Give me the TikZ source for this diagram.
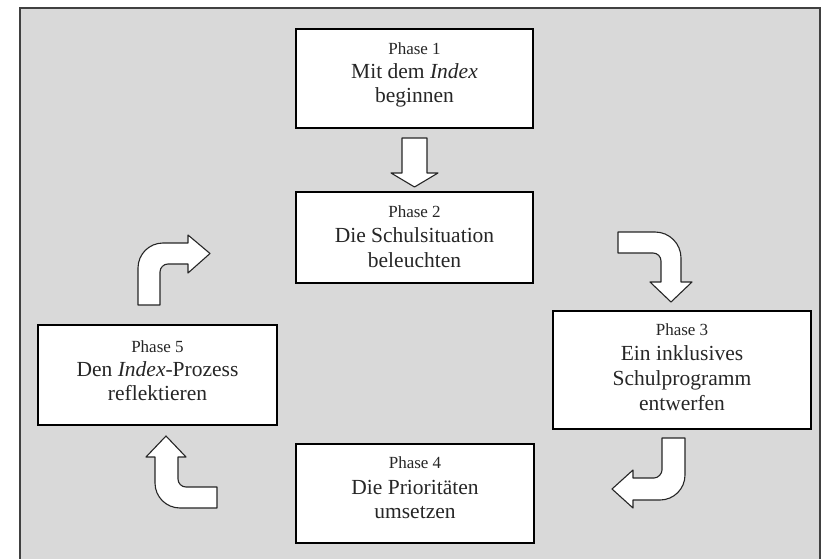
\documentclass[tikz,border=0pt]{standalone}
\usepackage{fontspec}
\setmainfont{Liberation Serif}
\begin{document}
\begin{tikzpicture}[x=1pt,y=-1pt,
  phasebox/.style={draw=black, line width=1.5pt, fill=white, inner sep=0pt, minimum width=#1},
  small/.style={anchor=base, inner sep=0pt, font=\fontsize{17}{20}\selectfont, text=black!85},
  big/.style={anchor=base, inner sep=0pt, font=\fontsize{21.5}{25}\selectfont, text=black!85},
  blockarrow/.style={draw=black!85, line width=1.1pt, fill=white, line join=round}]
\useasboundingbox (0,0) rectangle (835,559);
% background frame
\fill[gray!30] (20,8) rectangle (820,560);
\draw[black!75, line width=1.2pt] (20,560) -- (20,8) -- (820,8) -- (820,560);

% boxes
\node[phasebox=237pt, minimum height=99pt] (p1) at (414.5,78.5) {};
\node[phasebox=237pt, minimum height=91pt] (p2) at (414.5,237.5) {};
\node[phasebox=258pt, minimum height=118pt] (p3) at (682,370) {};
\node[phasebox=238pt, minimum height=99pt] (p4) at (415,493.5) {};
\node[phasebox=239pt, minimum height=100pt] (p5) at (157.5,375) {};

% texts
\node[small] (p1a) at (414.5,55) {Phase 1};
\node[big] (p1b) at (414.5,79) {Mit dem \textit{Index}};
\node[big] (p1c) at (414.5,103) {beginnen};

\node[small] (p2a) at (414.5,217) {Phase 2};
\node[big] (p2b) at (414.5,242) {Die Schulsituation};
\node[big] (p2c) at (414.5,267) {beleuchten};

\node[small] (p3a) at (682,335) {Phase 3};
\node[big] (p3b) at (682,360) {Ein inklusives};
\node[big] (p3c) at (682,385) {Schulprogramm};
\node[big] (p3d) at (682,410) {entwerfen};

\node[small] (p4a) at (415,468) {Phase 4};
\node[big] (p4b) at (415,494) {Die Prioritäten};
\node[big] (p4c) at (415,518) {umsetzen};

\node[small] (p5a) at (157.5,352) {Phase 5};
\node[big] (p5b) at (157.5,376) {Den \textit{Index}-Prozess};
\node[big] (p5c) at (157.5,400) {reflektieren};

% block arrows
% down arrow 1 -> 2
\draw[blockarrow] (402,138) -- (427,138) -- (427,173) -- (438,173) -- (414.5,187)
  -- (391,173) -- (402,173) -- cycle;
% top right arrow 2 -> 3
\draw[blockarrow] (618,232) -- (655,232)
  .. controls (669.4,232) and (681,243.6) .. (681,258)
  -- (681,282) -- (692,282) -- (671,302) -- (650,282) -- (661,282) -- (661,261)
  .. controls (661,256.6) and (657.4,253) .. (653,253)
  -- (618,253) -- cycle;
% bottom right arrow 3 -> 4
\draw[blockarrow] (662,438) -- (685,438) -- (685,475)
  .. controls (685,488.8) and (673.8,500) .. (660,500)
  -- (633,500) -- (633,508) -- (612,489) -- (633,470) -- (633,478) -- (654,478)
  .. controls (658.4,478) and (662,473.6) .. (662,470)
  -- cycle;
% bottom left arrow 4 -> 5
\draw[blockarrow] (166,436) -- (186,457) -- (178,457) -- (178,479)
  .. controls (178,483.4) and (181.6,487) .. (186,487)
  -- (217,487) -- (217,508) -- (180,508)
  .. controls (166.2,508) and (155,496.8) .. (155,483)
  -- (155,457) -- (146,457) -- cycle;
% top left arrow 5 -> 2
\draw[blockarrow] (138,305) -- (138,268)
  .. controls (138,254.2) and (149.2,243) .. (163,243)
  -- (188,243) -- (188,235) -- (210,253.5) -- (188,273) -- (188,264) -- (168,264)
  .. controls (163.6,264) and (160,267.6) .. (160,272)
  -- (160,305) -- cycle;
\end{tikzpicture}
\end{document}
